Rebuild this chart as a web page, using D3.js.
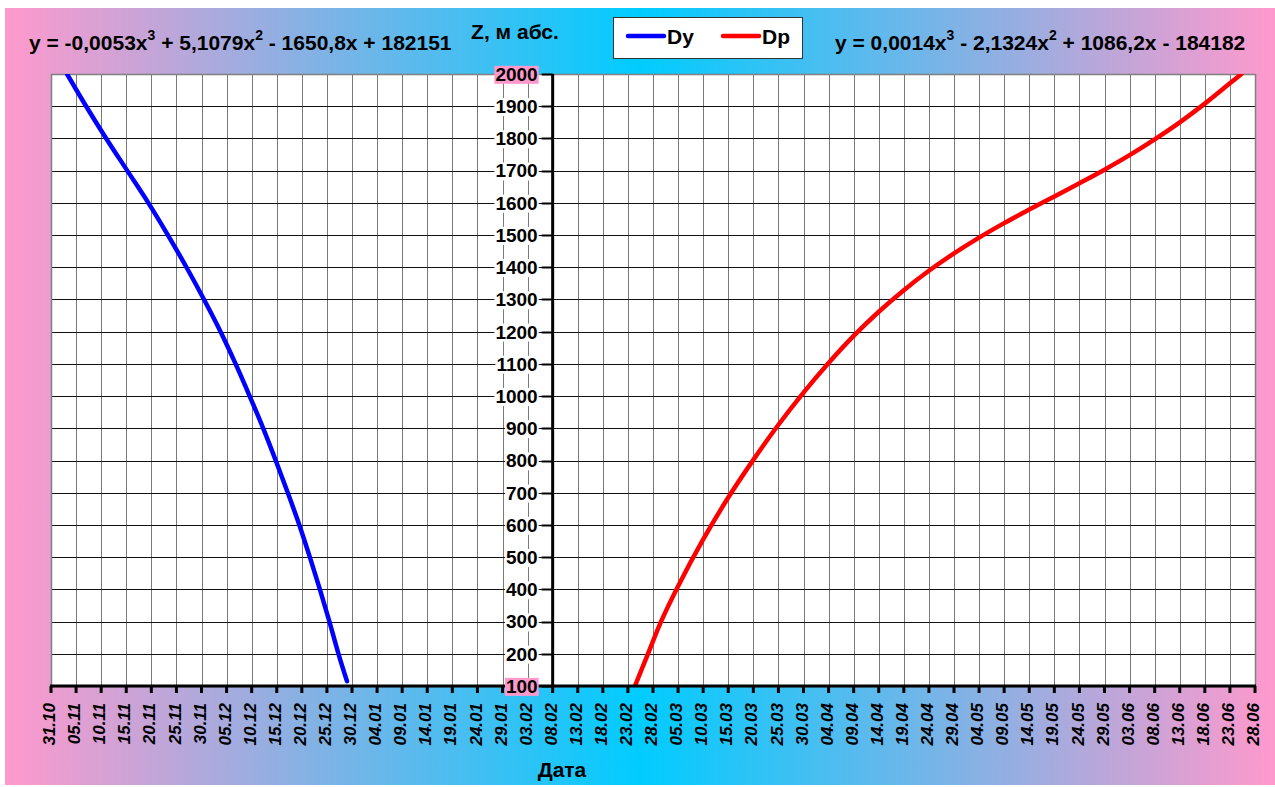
<!DOCTYPE html>
<html>
<head>
<meta charset="utf-8">
<script src="https://cdn.jsdelivr.net/npm/d3@7"></script>
<style>
html,body{margin:0;padding:0;background:#fff;}
svg{display:block;font-family:"Liberation Sans",Arial,sans-serif;}
</style>
</head>
<body>
<svg id="chart" width="1275" height="787"></svg>
<script>
// ---- data ----
const tickLabels = ["31.10","05.11","10.11","15.11","20.11","25.11","30.11","05.12","10.12","15.12","20.12","25.12","30.12","04.01","09.01","14.01","19.01","24.01","29.01","03.02","08.02","13.02","18.02","23.02","28.02","05.03","10.03","15.03","20.03","25.03","30.03","04.04","09.04","14.04","19.04","24.04","29.04","04.05","09.05","14.05","19.05","24.05","29.05","03.06","08.06","13.06","18.06","23.06","28.06"];
const tickStepDays = 5;
const zTicks = [100,200,300,400,500,600,700,800,900,1000,1100,1200,1300,1400,1500,1600,1700,1800,1900,2000];
const seriesNames = ["Dy","Dp"];
// days after 31.10 and depth Z (m abs.)
const dyDays = [3.2, 7.0, 11.0, 15.2, 19.4, 23.3, 27.0, 30.5, 33.8, 36.8, 39.6, 42.3, 44.8, 47.2, 49.5, 51.6, 53.6, 55.5, 57.3, 59.0];
const dyZ    = [2000, 1900, 1800, 1700, 1600, 1500, 1400, 1300, 1200, 1100, 1000, 900, 800, 700, 600, 500, 400, 300, 200, 115];
const dpDays = [116.4, 119.0, 121.6, 125, 130, 135, 140, 145, 150, 155, 160, 165, 170, 175, 180, 185, 190, 195, 200, 205, 210, 215, 220, 225, 230, 235, 237.3];
const dpZ    = [100, 200, 300, 410, 555, 685, 802, 911, 1011, 1103, 1187, 1262, 1329, 1389, 1443, 1492, 1537, 1579, 1620, 1661, 1703, 1748, 1797, 1850, 1908, 1971, 2000];
const yAxisCrossLabel = "08.02";
const eqLeft  = ["y = -0,0053x","3"," + 5,1079x","2"," - 1650,8x + 182151"];
const eqRight = ["y = 0,0014x","3"," - 2,1324x","2"," + 1086,2x - 184182"];

// ---- layout ----
const W = 1275, H = 787;
const P = {l: 51, r: 1255, t: 74, b: 686};
const svg = d3.select("#chart");
const defs = svg.append("defs");

const pink = "#FF99CC", cyan = "#00CCFF";
const grad = defs.append("linearGradient").attr("id","bg").attr("x1","0%").attr("x2","100%").attr("y1","0%").attr("y2","0%");
grad.append("stop").attr("offset","0%").attr("stop-color",pink);
grad.append("stop").attr("offset","50%").attr("stop-color",cyan);
grad.append("stop").attr("offset","100%").attr("stop-color",pink);

svg.append("rect").attr("x",0).attr("y",0).attr("width",W).attr("height",H).attr("fill","#fff");
svg.append("rect").attr("x",5).attr("y",8).attr("width",W-5).attr("height",H-10).attr("fill","url(#bg)");

const maxDay = (tickLabels.length-1)*tickStepDays;
const x = d3.scaleLinear().domain([0,maxDay]).range([P.l,P.r]);
const y = d3.scaleLinear().domain([100,2000]).range([P.b,P.t]);
const tickDays = tickLabels.map((d,i)=>i*tickStepDays);
const axisDay = tickDays[tickLabels.indexOf(yAxisCrossLabel)];
const ax = x(axisDay);
const crisp = v => Math.round(v) + 0.5;

defs.append("clipPath").attr("id","clip").append("rect")
  .attr("x",P.l).attr("y",P.t).attr("width",P.r-P.l).attr("height",P.b-P.t);

// plot area
svg.append("rect").attr("x",P.l).attr("y",P.t).attr("width",P.r-P.l).attr("height",P.b-P.t).attr("fill","#fff");

// gridlines
const g = svg.append("g");
g.selectAll("line.v").data(tickDays.slice(1,-1)).join("line")
  .attr("x1",d=>crisp(x(d))).attr("x2",d=>crisp(x(d))).attr("y1",P.t).attr("y2",P.b)
  .attr("stroke","#7a7a7a").attr("stroke-width",1);
g.selectAll("line.h").data(zTicks.slice(1,-1)).join("line")
  .attr("x1",P.l).attr("x2",P.r).attr("y1",d=>crisp(y(d))).attr("y2",d=>crisp(y(d)))
  .attr("stroke","#111").attr("stroke-width",1);

// plot border
svg.append("rect").attr("x",P.l+0.5).attr("y",P.t+0.5).attr("width",P.r-P.l).attr("height",P.b-P.t)
  .attr("fill","none").attr("stroke","#808080").attr("stroke-width",1.5);

// series
const line = d3.line().x(d=>x(d[0])).y(d=>y(d[1])).curve(d3.curveCatmullRom.alpha(0.5));
const cg = svg.append("g").attr("clip-path","url(#clip)");
cg.append("path").datum(d3.zip(dyDays,dyZ)).attr("d",line)
  .attr("fill","none").attr("stroke","#0000FF").attr("stroke-width",4.5).attr("stroke-linecap","round");
cg.append("path").datum(d3.zip(dpDays,dpZ)).attr("d",line)
  .attr("fill","none").attr("stroke","#FF0000").attr("stroke-width",4.5).attr("stroke-linecap","round");

// x axis
svg.append("line").attr("x1",P.l-1).attr("x2",P.r+1).attr("y1",P.b).attr("y2",P.b)
  .attr("stroke","#000").attr("stroke-width",3);
svg.append("g").selectAll("line").data(tickDays).join("line")
  .attr("x1",d=>x(d)).attr("x2",d=>x(d)).attr("y1",P.b).attr("y2",P.b+7)
  .attr("stroke","#000").attr("stroke-width",3);
svg.append("g").selectAll("text").data(tickLabels).join("text")
  .attr("transform",(d,i)=>`translate(${x(tickDays[i])-2},${P.b+17}) rotate(-90)`)
  .attr("dy","0.36em").attr("text-anchor","end")
  .attr("font-size",17).attr("font-weight","bold").attr("font-style","italic").text(d=>d);

// y ticks
svg.append("g").selectAll("line").data(zTicks).join("line")
  .attr("x1",ax-11).attr("x2",ax).attr("y1",d=>crisp(y(d))).attr("y2",d=>crisp(y(d)))
  .attr("stroke","#000").attr("stroke-width",2);
// y axis line
svg.append("line").attr("x1",ax).attr("x2",ax).attr("y1",P.t).attr("y2",P.b)
  .attr("stroke","#000").attr("stroke-width",3);

// y-axis labels with background boxes (drawn over axes)
const yl = svg.append("g");
zTicks.forEach(v=>{
  const t = yl.append("text").attr("x",ax-15).attr("y",y(v)).attr("dy","0.36em")
    .attr("text-anchor","end").attr("font-size",19).attr("font-weight","bold").text(v);
  const bb = t.node().getBBox();
  yl.insert("rect","text").attr("x",bb.x-1).attr("y",bb.y+2).attr("width",bb.width+2).attr("height",bb.height-3)
    .attr("fill",(v===2000||v===100)?pink:"#fff");
});

// axis titles
svg.append("text").attr("x",562).attr("y",777).attr("text-anchor","middle")
  .attr("font-size",21).attr("font-weight","bold").text("Дата");
svg.append("text").attr("x",515).attr("y",39).attr("text-anchor","middle")
  .attr("font-size",21).attr("font-weight","bold").text("Z, м абс.");

// equations
function eq(parts, x0){
  const t = svg.append("text").attr("x",x0).attr("y",50).attr("font-size",21).attr("font-weight","bold");
  parts.forEach((p,i)=>{
    if(i%2===1){
      t.append("tspan").attr("dy",-10).attr("font-size",14).text(p);
    } else {
      t.append("tspan").attr("dy",i===0?0:10).text(p);
    }
  });
  return t;
}
eq(eqLeft, 29);
eq(eqRight, 835);

// legend
const lg = svg.append("g");
lg.append("rect").attr("x",613.5).attr("y",17.5).attr("width",189).attr("height",41)
  .attr("fill","#fff").attr("stroke","#333").attr("stroke-width",1);
const legX = [628, 723];
const legCol = ["#0000FF","#FF0000"];
seriesNames.forEach((n,i)=>{
  lg.append("line").attr("x1",legX[i]).attr("x2",legX[i]+36).attr("y1",36).attr("y2",36)
    .attr("stroke",legCol[i]).attr("stroke-width",4.5).attr("stroke-linecap","round");
  lg.append("text").attr("x",legX[i]+39).attr("y",44).attr("font-size",21).attr("font-weight","bold").text(n);
});
</script>
</body>
</html>
